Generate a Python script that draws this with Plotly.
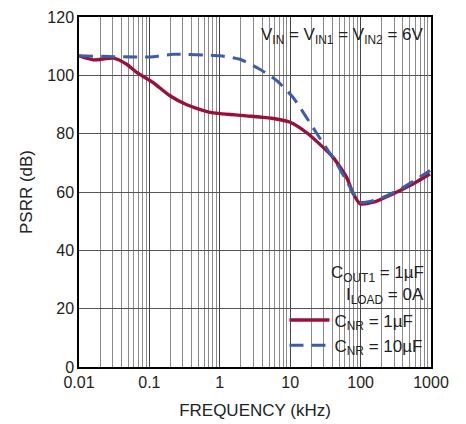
import plotly.graph_objects as go

# Frequency (kHz) and PSRR (dB)
freq_1uF = [0.01, 0.016, 0.031, 0.0475, 0.066, 0.113, 0.196, 0.34, 0.73, 2.16, 5.75, 10, 17, 26, 40.6, 63, 78.7, 98, 152, 292, 500, 966]
psrr_1uF = [106.7, 105.3, 105.9, 103.8, 101.0, 97.5, 93.0, 89.9, 87.3, 86.2, 85.2, 83.9, 80.4, 76.5, 71.9, 65.1, 59.4, 56.0, 56.5, 59.4, 62.2, 66.2]

freq_10uF = [0.01, 0.1, 0.22, 1.0, 1.94, 3.7, 6.5, 11, 17, 26, 46, 71, 98, 188, 405, 970]
psrr_10uF = [106.7, 106.3, 107.2, 106.7, 105.5, 102.1, 98.1, 92.4, 85.6, 78.7, 69.6, 61.6, 56.5, 57.7, 61.6, 67.4]

x_tick_vals = [0.01, 0.1, 1, 10, 100, 1000]
x_tick_text = ["0.01", "0.1", "1", "10", "100", "1000"]
y_tick_vals = [0, 20, 40, 60, 80, 100, 120]

FONT = "Liberation Sans Narrow, Arial Narrow, Liberation Sans, Arial, sans-serif"
RED = "#9B1039"
BLUE = "#3D5CAB"

fig = go.Figure()
fig.add_trace(go.Scatter(x=freq_1uF, y=psrr_1uF, mode="lines", name="C<sub>NR</sub> = 1µF",
                         line=dict(color=RED, width=3.4, shape="spline", smoothing=0.6)))
fig.add_trace(go.Scatter(x=freq_10uF, y=psrr_10uF, mode="lines", name="C<sub>NR</sub> = 10µF",
                         line=dict(color=BLUE, width=3, dash="14px,8px", shape="spline", smoothing=0.6)))

# white label boxes
for x0, x1, y0, y1 in [(0.497, 1, 0.9, 1), (0.696, 1, 0.174, 0.326), (0.571, 1, 0, 0.174)]:
    fig.add_shape(type="rect", xref="paper", yref="paper", x0=x0, x1=x1, y0=y0, y1=y1,
                  fillcolor="white", line=dict(width=0), layer="between")

fig.add_annotation(xref="paper", yref="paper", x=0.985, y=0.945, xanchor="right", yanchor="middle",
                   text="V<sub>IN</sub> = V<sub>IN1</sub> = V<sub>IN2</sub> = 6V", showarrow=False,
                   font=dict(size=17, color="#222", family=FONT))
fig.add_annotation(xref="paper", yref="paper", x=0.985, y=0.267, xanchor="right", yanchor="middle",
                   text="C<sub>OUT1</sub> = 1µF", showarrow=False, align="right",
                   font=dict(size=17, color="#222", family=FONT))
fig.add_annotation(xref="paper", yref="paper", x=0.985, y=0.203, xanchor="right", yanchor="middle",
                   text="I<sub>LOAD</sub> = 0A", showarrow=False, align="right",
                   font=dict(size=17, color="#222", family=FONT))

fig.update_layout(
    width=466, height=424,
    margin=dict(l=79, r=35, t=17, b=57),
    paper_bgcolor="white", plot_bgcolor="white",
    font=dict(family=FONT, size=16, color="#222"),
    showlegend=True,
    legend=dict(x=0.99, y=0.01, xanchor="right", yanchor="bottom", bgcolor="rgba(0,0,0,0)",
                font=dict(size=17, family=FONT, color="#222"), tracegroupgap=0, itemwidth=40),
    xaxis=dict(type="log", range=[-2, 3], tickvals=x_tick_vals, ticktext=x_tick_text,
               showgrid=True, gridcolor="#444", gridwidth=1, automargin=False,
               minor=dict(dtick="D1", showgrid=True, gridcolor="#8a8a8a", gridwidth=1, ticks=""),
               showline=True, linecolor="black", linewidth=1.5, mirror=True, ticks="",
               tickfont=dict(size=16),
               title=dict(text="FREQUENCY (kHz)", font=dict(size=17), standoff=14),
               zeroline=False),
    yaxis=dict(range=[0, 120], tickvals=y_tick_vals, showgrid=True, gridcolor="#555", gridwidth=1,
               showline=True, linecolor="black", linewidth=1.5, mirror=True, ticks="",
               automargin=False, tickfont=dict(size=16),
               title=dict(text="PSRR (dB)", font=dict(size=17), standoff=10), zeroline=False),
)

fig.write_html("out.html", post_script="document.body.style.margin='0';",
               config={"displayModeBar": False})
